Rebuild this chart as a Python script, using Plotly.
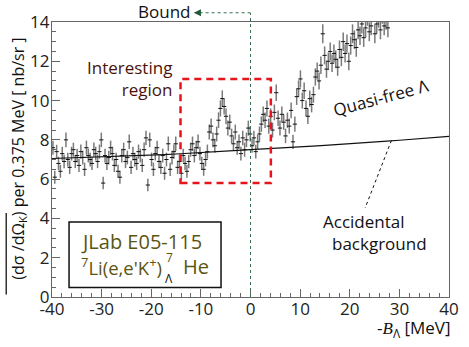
import numpy as np
import plotly.graph_objects as go

# ---- data ----
bin_width = 0.375
x_first = -39.8125
counts = [
    7.6, 6.1, 7.4, 6.8, 6.4, 7.3, 6.9, 8.0,
    7.0, 6.6, 7.3, 7.5, 6.9, 7.2, 6.7, 7.4,
    7.1, 6.5, 7.6, 7.2, 7.0, 6.8, 7.5, 7.3,
    6.9, 7.4, 8.0, 5.8, 7.2, 6.8, 7.1, 7.6,
    7.3, 6.7, 7.0, 6.4, 6.1, 7.2, 7.5, 6.9,
    7.1, 7.9, 6.6, 7.3, 7.0, 6.8, 7.4, 7.2,
    6.7, 7.5, 8.1, 5.7, 8.0, 7.0, 6.5, 7.3,
    7.6, 6.9, 6.6, 7.2, 6.3, 7.0, 7.8, 6.5,
    7.1, 7.4, 7.8, 6.6, 6.9, 6.3, 7.2, 6.8,
    6.4, 6.9, 7.5, 7.8, 7.2, 7.6, 7.9, 7.3,
    6.8, 6.5, 7.0, 7.4, 8.4, 8.7, 8.0, 7.7,
    8.3, 9.0, 9.6, 10.1, 9.7, 9.2, 8.6, 8.9,
    8.2, 7.8, 8.4, 7.6, 7.9, 7.3, 8.1, 7.5,
    8.0, 8.6, 8.3, 7.7, 8.1, 7.4, 7.9, 8.3,
    8.8, 9.3, 9.0, 9.6, 8.7, 9.2, 8.5, 9.4,
    10.4, 9.1, 8.6, 9.3, 8.9, 8.2, 9.0, 8.7,
    9.5, 7.9, 8.8, 10.2, 10.6, 11.1, 10.0, 10.5,
    9.6, 9.2, 10.1, 9.8, 10.3, 11.2, 11.5, 11.0,
    11.8, 13.4, 12.3, 11.6, 12.0, 12.5, 11.9, 12.4,
    12.1, 11.7, 12.6, 12.2, 13.0, 12.4, 12.9, 12.0,
    12.8, 13.4, 13.1, 12.7, 13.6, 13.3, 13.9, 13.2,
    13.7, 14.3, 13.5, 13.8, 14.5, 13.4, 13.9, 14.2,
    13.6, 14.4, 13.8, 14.1, 13.7,
]
errors = [
    0.36, 0.33, 0.35, 0.34, 0.33, 0.35, 0.34, 0.37,
    0.35, 0.34, 0.35, 0.36, 0.34, 0.35, 0.34, 0.36,
    0.35, 0.34, 0.36, 0.35, 0.35, 0.34, 0.36, 0.35,
    0.34, 0.36, 0.37, 0.32, 0.35, 0.34, 0.35, 0.36,
    0.35, 0.34, 0.35, 0.33, 0.33, 0.35, 0.36, 0.34,
    0.35, 0.37, 0.34, 0.35, 0.35, 0.34, 0.36, 0.35,
    0.34, 0.36, 0.37, 0.32, 0.37, 0.35, 0.34, 0.35,
    0.36, 0.34, 0.34, 0.35, 0.33, 0.35, 0.37, 0.34,
    0.35, 0.36, 0.37, 0.34, 0.34, 0.33, 0.35, 0.34,
    0.33, 0.34, 0.36, 0.37, 0.35, 0.36, 0.37, 0.35,
    0.34, 0.33, 0.35, 0.36, 0.38, 0.39, 0.37, 0.36,
    0.38, 0.40, 0.41, 0.42, 0.41, 0.40, 0.38, 0.39,
    0.37, 0.36, 0.38, 0.36, 0.37, 0.35, 0.37, 0.36,
    0.37, 0.38, 0.38, 0.36, 0.37, 0.35, 0.36, 0.38,
    0.39, 0.40, 0.39, 0.41, 0.39, 0.40, 0.38, 0.40,
    0.42, 0.40, 0.38, 0.40, 0.39, 0.37, 0.39, 0.38,
    0.40, 0.36, 0.39, 0.42, 0.43, 0.44, 0.41, 0.42,
    0.40, 0.39, 0.41, 0.40, 0.41, 0.44, 0.44, 0.43,
    0.45, 0.48, 0.46, 0.44, 0.45, 0.46, 0.45, 0.46,
    0.45, 0.44, 0.46, 0.45, 0.47, 0.46, 0.47, 0.45,
    0.46, 0.48, 0.47, 0.47, 0.48, 0.47, 0.49, 0.47,
    0.48, 0.49, 0.48, 0.48, 0.50, 0.48, 0.49, 0.49,
    0.48, 0.49, 0.48, 0.49, 0.48,
]
bg_x = [-40, -37.5, -35, -32.5, -30, -27.5, -25, -22.5, -20, -17.5, -15, -12.5,
        -10, -7.5, -5, -2.5, 0, 2.5, 5, 7.5, 10, 12.5, 15, 17.5, 20, 22.5, 25,
        27.5, 30, 32.5, 35, 37.5, 40]
bg_y = [7.05, 7.07, 7.08, 7.10, 7.12, 7.14, 7.17, 7.19, 7.22, 7.25, 7.28, 7.31,
        7.35, 7.39, 7.42, 7.46, 7.50, 7.53, 7.57, 7.60, 7.64, 7.68, 7.72, 7.77,
        7.82, 7.86, 7.90, 7.94, 7.98, 8.03, 8.08, 8.13, 8.18]
x_tickvals = [-40, -30, -20, -10, 0, 10, 20, 30, 40]
x_ticktext = ["-40", "-30", "-20", "-10", "0", "10", "20", "30", "40"]
y_tickvals = [0, 2, 4, 6, 8, 10, 12, 14]
y_ticktext = ["0", "2", "4", "6", "8", "10", "12", "14"]

bin_centers = x_first + bin_width * np.arange(len(counts))

W, H = 469, 347
ML, MR, MT, MB = 51.5, 10, 21, 49.5
PW, PH = W - ML - MR, H - MT - MB
FONT = "Open Sans"


def px(xp):
    return (xp - ML) / PW


def py(yp):
    return (H - MB - yp) / PH


fig = go.Figure()
fig.add_trace(go.Scatter(
    x=bin_centers, y=counts, mode="markers",
    marker=dict(symbol="line-ew", size=3, line=dict(color="#111111", width=1)),
    error_y=dict(type="data", array=errors, visible=True, width=0,
                 color="#7a7a7a", thickness=1.5),
    showlegend=False, cliponaxis=True, hoverinfo="skip",
))
fig.add_trace(go.Scatter(
    x=bg_x, y=bg_y, mode="lines",
    line=dict(color="#111111", width=1.2),
    showlegend=False, hoverinfo="skip",
))

shapes = [
    dict(type="rect", xref="x", yref="y", x0=-14.1, x1=4.1, y0=5.8, y1=11.1,
         line=dict(color="#e8141c", width=2.5, dash="7px,5px")),
    dict(type="line", xref="x", yref="paper", x0=0, x1=0, y0=0, y1=py(11.7),
         line=dict(color="#3a6e50", width=1, dash="dot")),
    dict(type="line", xref="paper", yref="paper", x0=px(203), x1=px(255),
         y0=py(11.7), y1=py(11.7),
         line=dict(color="#3a6e50", width=1, dash="dot")),
    dict(type="line", xref="x", yref="y", x0=28.4, y0=7.97, x1=23.1, y1=4.53,
         line=dict(color="#111111", width=1, dash="dot")),
    dict(type="rect", xref="paper", yref="paper", x0=px(69), x1=px(225),
         y0=py(288), y1=py(222), fillcolor="white",
         line=dict(color="#111111", width=1.5)),
    dict(type="line", xref="paper", yref="paper", x0=px(4.5), x1=px(4.5),
         y0=py(295), y1=py(213), line=dict(color="#111111", width=1.3)),
]

olive = "#5c5512"
maroon = "#4a1208"


def note(xp, yp, text, size=17, color="#111111", xanchor="center", **kw):
    return dict(x=px(xp), y=py(yp), xref="paper", yref="paper", text=text,
                xanchor=xanchor, yanchor="middle", showarrow=False,
                font=dict(size=size, color=color), **kw)


annotations = [
    dict(x=px(197), y=py(11.7), ax=7, ay=0, xref="paper", yref="paper",
         text="", showarrow=True, arrowhead=2, arrowsize=1.2, arrowwidth=1.2,
         arrowcolor="#1f5a35"),
    note(166, 10, "Bound"),
    note(177, 78, "Interesting<br>region", color=maroon, xanchor="right",
         align="right"),
    note(389, 97, "Quasi-free Λ", textangle=-15),
    note(328, 222, "Accidental", xanchor="left"),
    note(337, 244, "background", xanchor="left"),
    note(79, 242, "JLab E05-115", size=20, color=olive, xanchor="left"),
    note(79, 267, "<sup>7</sup>Li(e,e'K<sup>+</sup>)", size=18.5, color=olive,
         xanchor="left"),
    note(172, 258, "7", size=12, color=olive),
    note(172, 279, "Λ", size=12),
    note(184, 267, "He", size=20, color=olive, xanchor="left"),
    note(463, 329,
         "-<span style='font-family:Liberation Serif'><i>B</i></span><sub>Λ</sub> [MeV]",
         xanchor="right"),
    note(17, 158, "(dσ /dΩ<sub>K</sub>) per 0.375 MeV [ nb/sr ]", size=16,
         textangle=-90),
]

axis_common = dict(
    showline=True, linecolor="#666666", linewidth=1.3, mirror=True,
    ticks="inside", ticklen=8, tickwidth=1.2, tickcolor="#666666",
    showgrid=False, zeroline=False,
    tickfont=dict(family=FONT, size=17, color="#222222"),
)
fig.update_xaxes(range=[-40, 40], tickvals=x_tickvals, ticktext=x_ticktext,
                 ticklabelstandoff=-4,
                 minor=dict(dtick=2, ticks="inside", ticklen=4,
                            tickcolor="#666666", tickwidth=1),
                 **axis_common)
fig.update_yaxes(range=[0, 14], tickvals=y_tickvals, ticktext=y_ticktext,
                 ticklabelstandoff=-2,
                 minor=dict(dtick=0.5, ticks="inside", ticklen=4,
                            tickcolor="#666666", tickwidth=1),
                 **axis_common)

fig.update_layout(
    width=W, height=H,
    margin=dict(l=ML, r=MR, t=MT, b=MB),
    paper_bgcolor="white", plot_bgcolor="white",
    font=dict(family=FONT, color="#111111"),
    shapes=shapes, annotations=annotations,
    hovermode=False,
)
fig.write_html("out.html", config={"displayModeBar": False},
               post_script="document.body.style.margin='0';")
